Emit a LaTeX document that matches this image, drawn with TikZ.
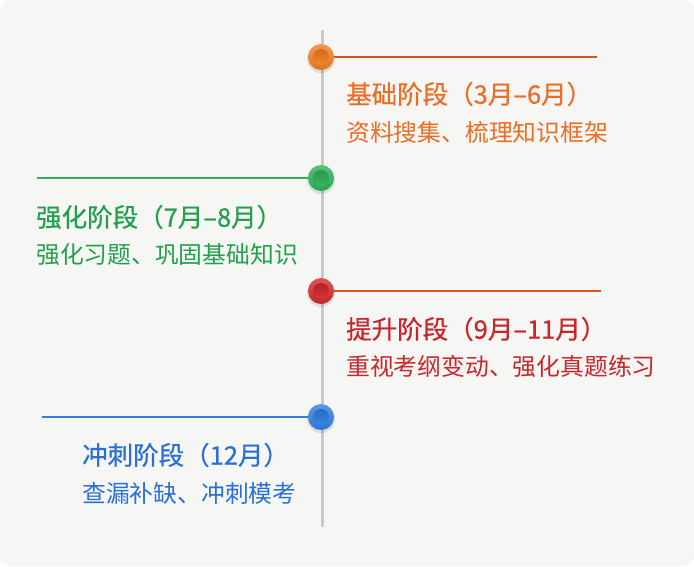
\documentclass[tikz,border=0pt]{standalone}
\usepackage{fontspec}
\newfontfamily\cjk{Noto Sans CJK SC}
\newfontfamily\cjktitle[FakeBold=0.6]{Noto Sans CJK SC}
\definecolor{bgc}{HTML}{F6F6F4}
\definecolor{axisc}{HTML}{C9C9C7}
\definecolor{orc}{HTML}{F47E22}
\definecolor{ortx}{HTML}{EE6D25}
\definecolor{orln}{HTML}{D9541E}
\definecolor{grc}{HTML}{2DB35A}
\definecolor{grtx}{HTML}{22A04C}
\definecolor{rdc}{HTML}{D42A2C}
\definecolor{rdtx}{HTML}{C9262B}
\definecolor{rdln}{HTML}{E0561E}
\definecolor{blc}{HTML}{2F7FE3}
\definecolor{bltx}{HTML}{2A6FD6}
\tikzset{
  dot/.style={circle, minimum size=26pt, inner sep=0pt, draw=none,
     top color=#1!80!white, bottom color=#1!92!black},
  dotshadow/.style={circle, minimum size=28pt, inner sep=0pt, fill=black, opacity=0.10},
  innerdot/.style={circle, minimum size=16pt, inner sep=0pt, draw=none,
     top color=#1!85!black, bottom color=#1!95!white},
  ttl/.style={font=\cjktitle\fontsize{25.5}{30}\selectfont, anchor=west, inner sep=0pt},
  sub/.style={font=\cjk\fontsize{23.8}{28}\selectfont, anchor=west, inner sep=0pt},
  conn/.style={line width=1.1pt}
}
\begin{document}
\begin{tikzpicture}[x=1pt,y=-1pt]
\useasboundingbox (0,0) rectangle (694,566);
\fill[bgc, rounded corners=10pt] (0,0) rectangle (694,566);
\coordinate (top) at (322,30);
\coordinate (bot) at (322,527);
\draw[axisc, line width=3pt] (top) -- (bot);
% end coordinates of the horizontal lines
\coordinate (e1) at (597,57);
\coordinate (e2) at (37,178);
\coordinate (e3) at (601,291);
\coordinate (e4) at (42,417);
\node[dotshadow] (h1) at (321,59) {};
\node[dotshadow] (h2) at (321,180) {};
\node[dotshadow] (h3) at (321,293) {};
\node[dotshadow] (h4) at (321,419) {};
\node[dot=orc] (d1) at (321,57) {};
\node[dot=grc] (d2) at (321,178) {};
\node[dot=rdc] (d3) at (321,291) {};
\node[dot=blc] (d4) at (321,417) {};
\draw[conn, orln] (d1.east) -- (e1);
\draw[conn, grc] (d2.west) -- (e2);
\draw[conn, rdln] (d3.east) -- (e3);
\draw[conn, blc] (d4.west) -- (e4);
\node[innerdot=orc] (i1) at (d1) {};
\node[innerdot=grc] (i2) at (d2) {};
\node[innerdot=rdc] (i3) at (d3) {};
\node[innerdot=blc] (i4) at (d4) {};
\node[ttl, text=ortx] (t1) at (346,94) {基础阶段（3月–6月）};
\node[sub, text=ortx] (s1) at (346,132) {资料搜集、梳理知识框架};
\node[ttl, text=grtx] (t2) at (36,217) {强化阶段（7月–8月）};
\node[sub, text=grtx] (s2) at (36,255) {强化习题、巩固基础知识};
\node[ttl, text=rdtx] (t3) at (346,329) {提升阶段（9月–11月）};
\node[sub, text=rdtx] (s3) at (346,366) {重视考纲变动、强化真题练习};
\node[ttl, text=bltx] (t4) at (82,455) {冲刺阶段（12月）};
\node[sub, text=bltx] (s4) at (82,493) {查漏补缺、冲刺模考};
\end{tikzpicture}
\end{document}
